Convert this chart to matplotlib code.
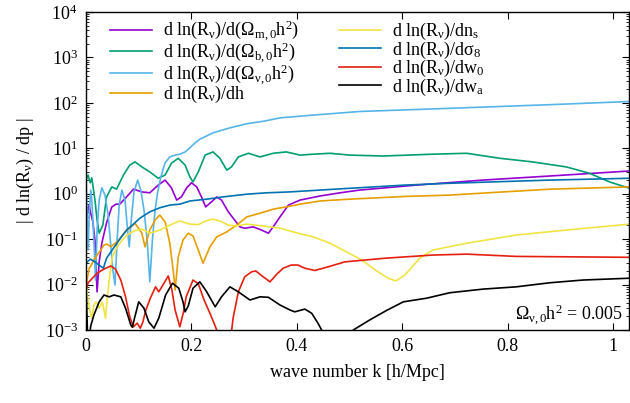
import numpy as np
import matplotlib
matplotlib.use('Agg')
import matplotlib.pyplot as plt
from matplotlib.ticker import LogLocator, FixedLocator

plt.rcParams['font.family'] = ['Liberation Serif', 'DejaVu Serif']
plt.rcParams['mathtext.fontset'] = 'custom'
plt.rcParams['mathtext.rm'] = 'Liberation Serif'
plt.rcParams['mathtext.it'] = 'Liberation Serif:italic'
plt.rcParams['mathtext.bf'] = 'Liberation Serif:bold'

# values as log10(|d ln R / dp|)
k_om = [0, .002, .006, .009, .013, .017, .021, .025, .030, .039, .049, .057, .064, .077, .090, .106,
        .121, .137, .150, .162, .172, .181, .191, .200, .210, .219, .227, .238, .248, .257, .270, .282,
        .292, .301, .317, .333, .346, .355, .368, .384, .406, .444, .482, .519, .627, .753, .880, 1.031]
lg_om = [-1.39, -0.47, -0.25, -0.43, -0.62, -1.02, -2.16, -1.50, -1.09, -0.64, -0.29, -0.23, -0.23, -0.07,
         0.10, 0.04, 0.02, 0.19, 0.30, 0.13, -0.14, -0.07, 0.13, 0.24, 0.15, -0.07, -0.29, -0.18, -0.07,
         -0.14, -0.40, -0.58, -0.73, -0.76, -0.73, -0.80, -0.87, -0.73, -0.51, -0.25, -0.14, -0.05, 0.02,
         0.08, 0.19, 0.30, 0.39, 0.50]

k_ob = [0, .004, .008, .011, .017, .021, .025, .032, .039, .049, .058, .071, .083, .093, .106, .121, .137,
        .150, .162, .175, .188, .197, .203, .213, .226, .241, .254, .267, .276, .289, .308, .330, .355,
        .380, .406, .431, .463, .500, .563, .658, .722, .785, .847, .911, .955, .993, 1.031]
lg_ob = [0.30, 0.41, 0.24, 0.35, -0.14, -0.58, -0.87, -0.69, -0.07, 0.15, 0.10, 0.41, 0.63, 0.70, 0.59,
         0.48, 0.34, 0.41, 0.67, 0.78, 0.63, 0.37, 0.26, 0.48, 0.85, 0.92, 0.78, 0.52, 0.59, 0.81, 0.89,
         0.81, 0.89, 0.92, 0.85, 0.87, 0.89, 0.85, 0.83, 0.87, 0.89, 0.78, 0.70, 0.59, 0.45, 0.26, 0.12]

k_onu = [0, .002, .004, .006, .009, .011, .015, .018, .021, .025, .030, .036, .042, .047, .051, .055,
         .059, .063, .068, .074, .078, .082, .085, .091, .098, .104, .110, .116, .121, .126, .131, .136,
         .142, .150, .159, .169, .178, .188, .197, .207, .216, .241, .273, .305, .339, .368, .430, .519,
         .690, .880, 1.031]
lg_onu = [0.41, -0.47, -1.24, -0.47, 0.08, -0.14, -1.02, -1.90, -0.80, -0.14, 0.13, -0.03, -0.47, -1.13,
          -1.68, -2.01, -1.02, -0.25, 0.08, -0.14, -0.69, -1.17, -0.69, 0.04, 0.30, 0.08, -0.36, -1.02,
          -1.94, -1.02, -0.36, 0.04, 0.37, 0.68, 0.81, 0.85, 0.87, 0.92, 1.01, 1.12, 1.20, 1.34, 1.45,
          1.54, 1.60, 1.67, 1.73, 1.81, 1.88, 1.96, 2.03]

k_h = [0, .002, .006, .009, .015, .021, .027, .034, .040, .047, .053, .059, .072, .082, .093, .106, .112,
       .121, .131, .140, .150, .159, .166, .169, .175, .184, .194, .203, .213, .222, .235, .248, .267,
       .286, .305, .330, .355, .380, .406, .444, .500, .605, .690, .880, 1.031]
lg_h = [-2.45, -1.90, -1.64, -1.59, -1.46, -1.35, -1.26, -1.13, -1.11, -1.17, -1.11, -1.06, -0.87, -0.76,
        -0.65, -0.87, -1.17, -0.80, -0.58, -0.47, -0.62, -1.09, -1.75, -2.12, -1.39, -1.02, -0.87, -0.93,
        -1.24, -1.53, -1.17, -0.95, -0.84, -0.69, -0.51, -0.43, -0.34, -0.29, -0.23, -0.16, -0.12, -0.06,
        -0.03, 0.10, 0.15]

k_ns = [0, .004, .008, .011, .015, .019, .025, .031, .034, .037, .040, .044, .050, .059, .069, .078, .091,
        .106, .121, .140, .159, .178, .197, .213, .227, .241, .254, .270, .284, .305, .336, .368, .399,
        .431, .463, .494, .523, .554, .573, .588, .605, .633, .658, .722, .816, .911, 1.031]
lg_ns = [-2.00, -2.33, -2.60, -2.74, -2.45, -2.38, -2.52, -2.38, -2.56, -2.74, -2.34, -1.90, -1.39, -1.17,
         -1.02, -0.91, -0.82, -0.78, -0.87, -0.80, -0.69, -0.60, -0.67, -0.68, -0.60, -0.56, -0.60, -0.69,
         -0.71, -0.67, -0.71, -0.76, -0.86, -0.95, -1.09, -1.28, -1.46, -1.72, -1.86, -1.92, -1.79, -1.42,
         -1.24, -1.09, -0.91, -0.80, -0.67]

k_s8 = [0, .008, .017, .027, .033, .039, .052, .064, .077, .090, .102, .121, .140, .159, .178, .197, .229,
        .260, .305, .343, .387, .472, .605, .690, .880, 1.031]
lg_s8 = [-1.53, -1.44, -1.50, -1.59, -1.64, -1.42, -1.20, -1.00, -0.80, -0.67, -0.54, -0.40, -0.31, -0.25,
         -0.23, -0.16, -0.12, -0.07, -0.01, 0.02, 0.04, 0.10, 0.19, 0.23, 0.30, 0.34]

k_w0 = [0, .004, .009, .021, .034, .047, .056, .066, .075, .083, .090, .097, .103, .108, .113, .122, .132,
        .138, .148, .156, .163, .169, .178, .185, .190, .203, .213, .224, .235, .245, .252, .265, .275,
        .279, .289, .301, .314, .322, .334, .349, .362, .374, .389, .402, .415, .434, .459, .491, .567,
        .658, .722, .816, 1.031]
lg_w0 = [-2.12, -1.96, -1.90, -1.75, -1.66, -1.59, -1.66, -1.90, -2.27, -2.71, -2.93, -2.85, -2.96, -2.82,
         -2.58, -2.30, -2.05, -2.16, -1.97, -1.81, -2.12, -2.56, -2.93, -2.60, -2.27, -1.90, -1.98, -2.34,
         -2.63, -2.91, -3.13, -3.33, -3.13, -2.74, -2.16, -1.83, -1.72, -1.70, -1.81, -1.94, -1.77, -1.64,
         -1.57, -1.57, -1.64, -1.69, -1.61, -1.50, -1.42, -1.35, -1.33, -1.38, -1.40]

k_wa = [0, .003, .007, .009, .015, .025, .034, .044, .053, .066, .075, .085, .088, .092, .100, .110, .119,
        .129, .138, .151, .164, .176, .184, .188, .194, .203, .216, .229, .245, .257, .273, .289, .311,
        .330, .346, .368, .387, .396, .415, .428, .440, .447, .455, .476, .497, .507, .538, .570, .602,
        .646, .690, .753, .816, .880, .943, 1.031]
lg_wa = [-2.01, -3.11, -3.11, -2.91, -2.67, -2.38, -2.23, -2.27, -2.23, -2.27, -2.52, -2.89, -2.94, -2.74,
         -2.38, -2.52, -2.82, -2.96, -2.74, -2.23, -1.97, -2.08, -2.38, -2.60, -2.47, -2.08, -1.94, -2.16,
         -2.49, -2.27, -2.05, -2.16, -2.34, -2.27, -2.28, -2.45, -2.56, -2.60, -2.54, -2.63, -2.85, -3.00,
         -3.33, -3.66, -3.33, -3.00, -2.78, -2.57, -2.38, -2.30, -2.18, -2.10, -2.05, -1.96, -1.90, -1.86]

labels = [
    r'd ln(R$_{\mathrm{ν}}$)/d(Ω$_{\mathrm{m,0}}$h$^{\mathrm{2}}$)',
    r'd ln(R$_{\mathrm{ν}}$)/d(Ω$_{\mathrm{b,0}}$h$^{\mathrm{2}}$)',
    r'd ln(R$_{\mathrm{ν}}$)/d(Ω$_{\mathrm{ν,0}}$h$^{\mathrm{2}}$)',
    r'd ln(R$_{\mathrm{ν}}$)/dh',
    r'd ln(R$_{\mathrm{ν}}$)/dn$_{\mathrm{s}}$',
    r'd ln(R$_{\mathrm{ν}}$)/dσ$_{\mathrm{8}}$',
    r'd ln(R$_{\mathrm{ν}}$)/dw$_{\mathrm{0}}$',
    r'd ln(R$_{\mathrm{ν}}$)/dw$_{\mathrm{a}}$',
]
colors = ['#9400d3', '#009e73', '#56b4e9', '#e69f00', '#f0e442', '#0072b2', '#e51e10', '#000000']
series = [(k_om, lg_om), (k_ob, lg_ob), (k_onu, lg_onu), (k_h, lg_h),
          (k_ns, lg_ns), (k_s8, lg_s8), (k_w0, lg_w0), (k_wa, lg_wa)]

fig = plt.figure(figsize=(6.30, 4.03), dpi=100)
ax = fig.add_axes([86 / 630, 1 - 330 / 403, 543 / 630, 318 / 403])

for (k, lg), c, lab in zip(series, colors, labels):
    ax.plot(k, 10 ** np.array(lg), color=c, lw=1.2, label=lab)

ax.set_yscale('log')
ax.set_xlim(0, 1.03)
ax.set_ylim(1e-3, 1e4)
ax.xaxis.set_major_locator(FixedLocator([0, 0.2, 0.4, 0.6, 0.8, 1.0]))
ax.set_xticklabels(['0', '0.2', '0.4', '0.6', '0.8', '1'])
ax.yaxis.set_major_locator(LogLocator(base=10, numticks=20))
ax.yaxis.set_minor_locator(LogLocator(base=10, subs=np.arange(2, 10), numticks=20))
ax.tick_params(which='both', direction='in', top=True, right=True, labelsize=13, pad=6)
ax.tick_params(which='major', length=5, width=0.8)
ax.tick_params(which='minor', length=2.5, width=0.6)
for sp in ax.spines.values():
    sp.set_linewidth(1.0)

ax.set_xlabel('wave number k [h/Mpc]', fontsize=13, labelpad=6)
ax.set_ylabel(r'| d ln(R$_{\mathrm{ν}}$) / dp |', fontsize=13, labelpad=6)

ax.text(0.989, 0.03, r'Ω$_{\mathrm{ν,0}}$h$^{\mathrm{2}}$ = 0.005', transform=ax.transAxes,
        ha='right', va='baseline', fontsize=13)

ax.legend(loc='upper left', bbox_to_anchor=(0.031, 1.002), ncol=2, frameon=False, fontsize=13,
          handlelength=2.3, handletextpad=0.65, labelspacing=-0.14, columnspacing=2.2, borderaxespad=0)

fig.savefig('out.png', dpi=100)
